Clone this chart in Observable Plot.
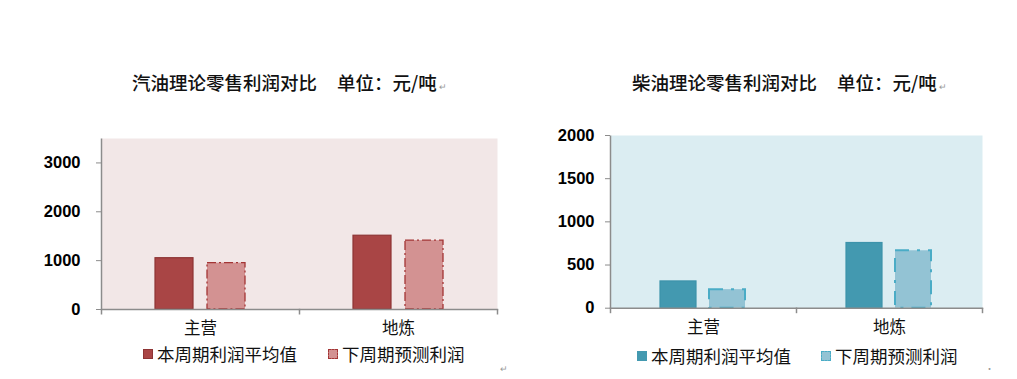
<!DOCTYPE html>
<html><head><meta charset="utf-8">
<script src="https://cdn.jsdelivr.net/npm/d3@7"></script>
<script src="https://cdn.jsdelivr.net/npm/@observablehq/plot@0.6"></script>
<style>
body{margin:0;background:#fff;}
#root{position:relative;width:1017px;height:379px;overflow:hidden;font-family:"Noto Sans CJK SC","Noto Sans",sans-serif;color:#111;}
.title{position:absolute;top:70px;font-size:18.5px;line-height:24px;white-space:nowrap;font-weight:500;}
.title .unit{margin-left:20px;}
.mark{font-size:9px;color:#999;margin-left:2px;}
.chart{position:absolute;top:120px;}
.legend{position:absolute;font-size:17.5px;line-height:18px;height:18px;display:flex;align-items:center;white-space:nowrap;}
.sw{display:inline-block;width:10px;height:10px;margin-right:4px;box-sizing:border-box;}
.stray{position:absolute;font-size:9px;color:#999;}
#err{position:absolute;left:0;top:0;font-size:10px;color:red;}
</style></head>
<body>
<div id="root">
  <div class="title" style="left:132px">汽油理论零售利润对比<span class="unit">单位：元/吨</span><span class="mark">↵</span></div>
  <div class="title" style="left:632px">柴油理论零售利润对比<span class="unit">单位：元/吨</span><span class="mark">↵</span></div>
  <div id="c1" class="chart" style="left:0px"></div>
  <div id="c2" class="chart" style="left:500px"></div>
  <div id="l1"></div>
  <div id="l2"></div>
  <div class="stray" style="left:500px;top:362px">↵</div>
  <div class="stray" style="left:985px;top:362px">·</div>
  <div id="err"></div>
</div>
<script>
const categories = ["主营", "地炼"];
const series = ["本周期利润平均值", "下周期预测利润"];
const gasolineCurrent = [1050, 1510];
const gasolineNext = [950, 1410];
const dieselCurrent = [310, 755];
const dieselNext = [215, 665];
const gasolineTicks = [0, 1000, 2000, 3000];
const dieselTicks = [0, 500, 1000, 1500, 2000];

function logErr(where, e) {
  document.getElementById("err").textContent += where + ": " + e.message + "  ";
}

function shapes(el, sel) {
  return el.matches(sel) ? [el] : Array.from(el.querySelectorAll(sel));
}

function makeChart(cfg) {
  const rows = categories.flatMap((c, i) => [
    {category: c, series: series[0], value: cfg.current[i]},
    {category: c, series: series[1], value: cfg.next[i]}
  ]);
  const axisColor = "#8c8c8c";
  let plot;
  try {
  plot = Plot.plot({
    width: cfg.width, height: 259,
    marginLeft: cfg.ml, marginRight: cfg.mr, marginTop: cfg.mt, marginBottom: cfg.mb,
    style: {background: "transparent", overflow: "visible"},
    fx: {domain: categories, padding: 0, label: null},
    x: {domain: series, paddingInner: 0.26, paddingOuter: 1, axis: null},
    y: {domain: cfg.yDomain, axis: null},
    marks: [
      Plot.frame({fill: cfg.bg, stroke: null, facet: "super"}),
      Plot.barY(rows.filter(d => d.series === series[0]), {fx: "category", x: "series", y: "value", fill: cfg.c1, stroke: cfg.s1, strokeWidth: 1.2}),
      Plot.barY(rows.filter(d => d.series === series[1]), {fx: "category", x: "series", y: "value", fill: cfg.c2, stroke: cfg.s2, strokeWidth: cfg.sw2, strokeDasharray: cfg.dash}),
      Plot.frame({anchor: "bottom", stroke: axisColor, strokeWidth: 1.5}),
      Plot.axisY({ticks: cfg.ticks, tickFormat: d => String(d), tickSize: 5, tickPadding: cfg.tp, stroke: axisColor, fill: "#000", fontSize: 16.5, fontWeight: "bold", fontFamily: "'Liberation Sans', Arial, sans-serif", label: null}),
      Plot.axisFx({anchor: "bottom", tickSize: 0, tickPadding: 13, fontSize: 16.5, fill: "#111", fontFamily: "'Noto Sans CJK SC', sans-serif", label: null})
    ]
  });
  } catch (e) { logErr("plot", e); return; }
  const host = document.getElementById(cfg.id);
  host.appendChild(plot);
  try {
  // y-axis line and category boundary ticks, measured from the frames Plot laid out
  const svgBox = plot.getBoundingClientRect();
  const frameEls = plot.querySelectorAll('[aria-label="frame"]');
  const bg = shapes(frameEls[0], "rect")[0].getBoundingClientRect();
  const bottoms = shapes(frameEls[1], "line")
    .map(l => l.getBoundingClientRect())
    .sort((a, b) => a.left - b.left);
  const g = d3.select(plot).append("g").attr("stroke", axisColor).attr("stroke-width", 1.5);
  const x0 = bg.left - svgBox.left;
  const top = bg.top - svgBox.top;
  const bottom = bg.bottom - svgBox.top;
  g.append("line").attr("x1", x0).attr("x2", x0).attr("y1", top).attr("y2", bottom + 5);
  bottoms.forEach(b => {
    const x = Math.min(b.right, bg.right) - svgBox.left;
    g.append("line").attr("x1", x).attr("x2", x).attr("y1", bottom).attr("y2", bottom + 5);
  });
  } catch (e) { logErr("post", e); }
}

makeChart({id: "c1", current: gasolineCurrent, next: gasolineNext, width: 500, ml: 100, mr: 3, mt: 18, mb: 70, yDomain: [0, 3500], ticks: gasolineTicks, tp: 16,
  bg: "#f2e7e7", c1: "#a94545", s1: "#8e3434", c2: "#d39292", s2: "#a33535", sw2: 1.3, dash: "9,3,2,3"});
makeChart({id: "c2", current: dieselCurrent, next: dieselNext, width: 517, ml: 110, mr: 35, mt: 15, mb: 71.3, yDomain: [0, 2000], ticks: dieselTicks, tp: 11,
  bg: "#dbedf2", c1: "#4399b0", s1: "#3d93ab", c2: "#93c3d4", s2: "#4aacc6", sw2: 2, dash: "14,8,3,8"});

function legend(id, top, items) {
  const root = document.getElementById(id);
  items.forEach(it => {
    const d = document.createElement("div");
    d.className = "legend";
    d.style.left = it.left + "px";
    d.style.top = top + "px";
    const sw = document.createElement("span");
    sw.className = "sw";
    sw.style.background = it.fill;
    if (it.stroke) sw.style.border = "1.5px " + it.style + " " + it.stroke;
    d.appendChild(sw);
    d.appendChild(document.createTextNode(it.label));
    root.appendChild(d);
  });
}
legend("l1", 345, [
  {left: 143, fill: "#a94545", stroke: "#8e3434", style: "solid", label: series[0]},
  {left: 328, fill: "#d39292", stroke: "#a33535", style: "dashed", label: series[1]}
]);
legend("l2", 347, [
  {left: 637, fill: "#4399b0", label: series[0]},
  {left: 821, fill: "#93c3d4", stroke: "#4aacc6", style: "dashed", label: series[1]}
]);
</script>
</body></html>
